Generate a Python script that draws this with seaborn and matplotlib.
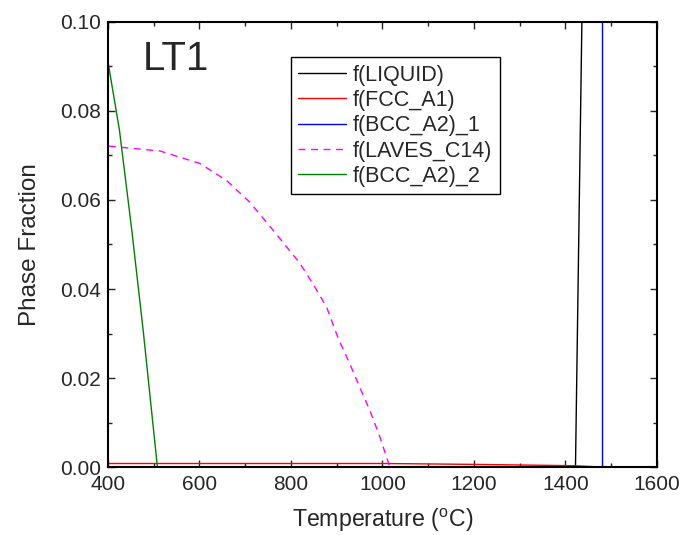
import matplotlib
matplotlib.use("Agg")
import matplotlib.pyplot as plt
import seaborn as sns
import pandas as pd
from matplotlib.ticker import MultipleLocator, FormatStrFormatter

# phase fraction vs temperature
liquid_t = [1422, 1436, 1460, 1480]
liquid_f = [0.0, 0.1, 0.45, 1.0]

fcc_t = [400, 600, 800, 1000, 1200, 1420, 1480, 1515]
fcc_f = [0.0008, 0.0008, 0.0008, 0.0008, 0.0006, 0.0003, 0.0, 0.0]

bcc1_t = [1479, 1479]
bcc1_f = [0.6, 0.0]

laves_t = [402, 514, 601, 659, 710, 761, 820, 849, 878, 903, 929, 951, 973, 995, 1016]
laves_f = [0.0721, 0.0710, 0.0682, 0.0644, 0.0595, 0.0532, 0.0457, 0.0410, 0.0359,
           0.0290, 0.0231, 0.0178, 0.0126, 0.0066, 0.0]

bcc2_t = [400, 425, 452, 477, 508]
bcc2_f = [0.091, 0.0757, 0.0532, 0.0306, 0.0]

series = [
    ("f(LIQUID)", liquid_t, liquid_f, "black", "-"),
    ("f(FCC_A1)", fcc_t, fcc_f, "red", "-"),
    ("f(BCC_A2)_1", bcc1_t, bcc1_f, "blue", "-"),
    ("f(LAVES_C14)", laves_t, laves_f, "magenta", "--"),
    ("f(BCC_A2)_2", bcc2_t, bcc2_f, "green", "-"),
]

sns.set_style("ticks")
plt.rcParams["font.family"] = ["Liberation Sans", "DejaVu Sans"]
plt.rcParams["mathtext.fontset"] = "custom"
plt.rcParams["mathtext.rm"] = "Liberation Sans"

fig = plt.figure(figsize=(6.81, 5.35), dpi=100)
ax = fig.add_axes([0.1586, 0.127, 0.806, 0.832])

for name, t, f, color, ls in series:
    df = pd.DataFrame({"T": t, "f": f})
    sns.lineplot(data=df, x="T", y="f", ax=ax, color=color, lw=1.0,
                 estimator=None, sort=False, label=name)
    if ls == "--":
        ax.lines[-1].set_dashes((5, 4))

ax.set_xlim(400, 1600)
ax.set_ylim(0, 0.1)
ax.xaxis.set_major_locator(MultipleLocator(200))
ax.xaxis.set_minor_locator(MultipleLocator(100))
ax.yaxis.set_major_locator(MultipleLocator(0.02))
ax.yaxis.set_minor_locator(MultipleLocator(0.01))
ax.yaxis.set_major_formatter(FormatStrFormatter("%.2f"))
ax.tick_params(which="both", direction="in", top=True, right=True, labelsize=15, width=1)
ax.tick_params(axis="x", which="major", pad=6)
ax.tick_params(axis="y", which="major", pad=5)
ax.tick_params(which="major", length=5)
ax.tick_params(which="minor", length=3)
for s in ax.spines.values():
    s.set_linewidth(1.5)
    s.set_color("black")

ax.set_xlabel(r"Temperature ($^\mathrm{o}$C)", fontsize=16.7, labelpad=9)
ax.set_ylabel("Phase Fraction", fontsize=17.5, labelpad=14)

ax.text(476, 0.0892, "LT1", fontsize=29, ha="left", va="baseline")

leg = ax.legend(loc="upper left", bbox_to_anchor=(0.333, 0.921), borderaxespad=0,
                fancybox=False, frameon=True, edgecolor="black", fontsize=15.5,
                handlelength=2.2, labelspacing=0.2, handletextpad=0.35,
                borderpad=0.35)
leg.get_frame().set_linewidth(1.0)
leg.get_frame().set_alpha(1)

fig.savefig("out.png", dpi=100)
